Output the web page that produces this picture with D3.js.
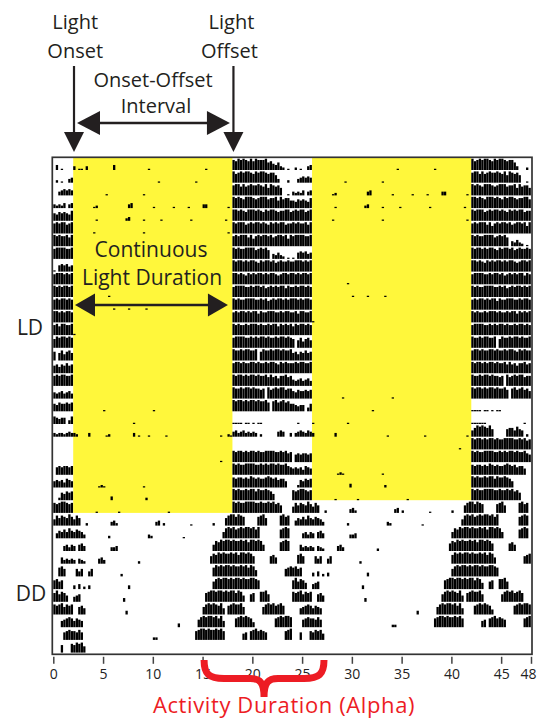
<!DOCTYPE html>
<html>
<head>
<meta charset="utf-8">
<script src="https://cdn.jsdelivr.net/npm/d3@7"></script>
<style>
  body { margin: 0; background: #fff; }
  svg { display: block; }
  text { font-family: "Open Sans", "Noto Sans", sans-serif; }
</style>
</head>
<body>
<svg id="chart" width="538" height="721"></svg>
<script>
// Double-plotted wheel-running actogram. Each row shows one day (0-24 h)
// followed by the next day (24-48 h). Values are activity counts per
// 15-minute bin on a 0-9 scale ('.' = no activity), written hour by hour.
const binHours = 0.25;
const lightOn = 2;     // lights on (h)
const lightOff = 18;   // lights off (h)
const ldDays = 28;     // days 0-27 under light/dark, then constant dark
const tickValues = [0, 5, 10, 15, 20, 25, 30, 35, 40, 45, 48];
const alphaRange = [15.15, 27.2];   // activity duration (alpha), h

const days = [
  ".4.1 .... 3.11 .3..|.... .... 4... ....|.... ..1. .... ....|.... .... .... .1..|.... .... 8798 9879|7988 8967 5463 2.1.",
  ".2.1 ..34 .... ....|.... .... .... ....|.... .... ..1. ....|.... .... .1.. ....|.... .... 9789 8998|7989 9878 863. ..2.",
  "..34 5454 .... ....|.... .1.. .... ....|.... 1... .... ....|.... .... .... ....|.... .... 8997 9789|8898 7969 8786 ..1.",
  "3232 4.34 .... ....|12.. .... .... ..34|.... .... 1... ....|1... ..1. .... 33..|.... ..1. 9898 7999|8789 9978 8969 7886",
  "6576 7658 .... ....|.1.. .... .... .23.|.... 1... ...1 ....|.... ...1 .... ....|.... .1.. 9989 8799|9898 7989 9878 8997",
  "8989 9789 .... ....|1... .... .... ....|.... 1... .... ....|.... .... .... ....|.... ..1. 9899 9789|8998 9879 8989 9788",
  "9898 8979 .... ....|.... .... .... ....|.... .... .... ....|.... .... .... ....|.... .... 8989 9979|6898 9989 7899 8969",
  "8999 9889 .... ....|.... .... .... ....|.... .... .... ....|.... .... .... ....|.... .... 9898 8999|9789 897. 4353 2.1.",
  "1.56 5645 .... ....|.... .... .... ....|.... .... .... ....|.... .... .... ....|.... .... 9899 8989|9879 8998 9789 8898",
  "8999 8989 .... ....|.... .... .... ....|.... .... .... ....|.... .... .... ....|.... .... 9989 8798|9899 8989 9878 9989",
  "9898 9989 .... ....|.... ..1. .... ....|.... .... .... ....|.... .... .... ....|.... .... 8999 9889|8998 9789 8989 9798",
  "8989 9898 .... ....|.... .... 1... ..1.|.... .1.. .... ....|.... .... .... ....|.... .... 9898 8999|9889 8978 9899 8989",
  "9989 8998 .... ....|.... .... .... ....|.... .... .... ....|.... .... .... ....|.... .... 8989 9898|9979 8899 9889 8998",
  "8979 9889 1... ....|.... .... .... ....|.... .... .... ....|.... .... .... ....|.... .... 9898 8989|9989 8898 9979 8989",
  "7989 9898 .... ....|.... .... .... ....|.... .... .... ....|.... .... .... ....|.... .... 8999 9889|8989 9898 8989 9898",
  "7.68 5786 .... ....|.... .... .... ....|.... .... .... ....|.... .... .... ....|.... .... 9889 8998|89.7 9889 8998 9889",
  "6757 6867 .... ....|.... .... .... ....|.... .... .... ....|.... .... .... ....|.... .... 8998 9889|9898 8989 9879 8988",
  "8989 9889 .... ....|.... .... .... ....|.... .... .... ....|.... .... .... ....|.... .... 9899 8989|9898 8979 7868 8978",
  "5456 4564 .... ....|.... .... .... ....|.... .... .... ....|.... .... .... ....|.... .... 9889 8998|9887 8.97 8989 9788",
  "6576 6767 .... ....|.... 1... .... ....|.... .... 1... ....|.... .... .... ....|.... .... 9899 8989|9898 897. 8978 9786",
  "6545 5.36 .... ....|.... .... .... ....|1... .... .... ....|.... .... .... ....|.... .... 1111 .11.|1.11 .... .... ....",
  "3233 2343 32.. ..3.|.... .12. .... ....|3.1. ..1. .... .1..|.... .... .... ....|...1 ..21 4534 5343|43.2 .... ..45 4..3",
  ".... .... .... ....|.... .... .... ....|.... .... .... ....|.... .... .... ....|.... .... .... ....|.... .... .... ....",
  ".... .... .... ....|.... .... .... ....|.... .... .... ....|.... .... .... ....|...1 .... 9899 8989|9898 8999 9889 8978",
  ".676 7767 .... ....|.... .... .... ....|.... .... .... ....|.... .... .... ....|.... .... 9898 8999|9889 8989 9898 8976",
  "5656 4765 .... ....|..12 1... .... ....|.... 1... .... ....|.... .... .... ....|.... .... 8788 7879|8787 7898 7867 75..",
  "..26 5767 .... ....|.... ...3 .... ....|.... .2.. .... ....|.... .... .... ....|.... .... 9898 8989|9798 8987 5... ....",
  "8789 9878 .... ....|.1.. .... ..1. ....|.... .... .... ..1.|.... .... .... ....|.... .... 9898 8999|9889 8898 9786 ....",
  "5868 7697 586. .2..|.... ...3 42.. ....|.... .... .34. 2...|.... ...1 .... ....|2... .689 9798 7...|..78 96.. ...8 978.",
  ".465 7586 5765 3...|.... ..2. .... ....|.... ..32 .... ....|.... 1... .... ....|.... 5898 9789 8998|979. .... ...7 898.",
  ".... 4535 4.56 4...|.... ...3 34.. ....|.... .... .... ....|.... .... .... ....|5879 8998 9889 8979|9898 5... ...7 898.",
  "...5 3434 3.43 2...|..45 3... .... ....|..2. .... .... ....|.... .... .... ...6|8798 9889 8979 9898|6... ...6 75.. ....",
  "..78 6... .646 ..46|.... .... ...2 ....|.... .... .... ....|.... .... .... ....|7989 8998 9889 8979|85.. .... .... .678",
  "7867 .... 3.4. 2.3.|.... .... .... ..3.|.... .... .... ....|.... .... .... ....|6898 9989 8998 9889|987. .... .... ....",
  "7968 75.. 456. ....|.... .... .... 3...|.... .... .... ....|.... .... .... .789|9899 8989 9798 5..6|7..8 896. .... ....",
  "8789 6878 ..67 5...|.... .... .... .3..|.... .... .... ....|.... .... .... 6898|9879 5.78 9889 6...|.... 6898 9789 7...",
  "...5 6787 5765 ....|.... .... .... ....|.... .... .... ....|..3. .... ..68 9899|8979 5... .789 8987|4... .... .789 8998",
  ".... 6787 7686 ....|.... .... .... ....|.... .... 22.. ....|.... .... .789 9898|8989 7... .... 56.7|8978 76.. .... .789",
  "...6 ...7 6878 5...|.... .... .... ....|.... .... .... ....|.... .... .... ....|.... .... .... ....|.... .... .... ....",
  ".... .... .... ....|.... .... .... ....|.... .... .... ....|.... .... .... ....|.... .... .... ....|.... .... .... ...."
];

// Second-half records that differ from the following day's first half.
const secondHalfOverrides = {
  20: "..1. .... 1... ....|.... ..1. .... ....|.... .... .... ....|.... .... .... ....|.... .... 1111 11..|.... .... .... .1..",
  21: ".345 4354 3... ....|.3.. .... .... ....|.... ..1. .... ....|.... .1.. .... ....|.... ..1. 5798 9879|6... ..67 7586 5.2."
};

const parseDay = s => s.replace(/[ |]/g, "").split("").map(c => (c === "." ? 0 : +c));
const dayCounts = days.map(parseDay);
const nRows = days.length - 1;

const rows = d3.range(nRows).map(k => ({
  row: k,
  first: dayCounts[k],
  second: secondHalfOverrides[k] !== undefined ? parseDay(secondHalfOverrides[k]) : dayCounts[k + 1]
}));

const svg = d3.select("#chart");
const ink = "#231f20";
const red = "#ed1c24";
const yellow = "#fff73b";

const x = d3.scaleLinear().domain([0, 48]).range([53.3, 531]);
const rowH = 12.7;
const y = d3.scaleLinear().domain([0, nRows]).range([157.3, 157.3 + nRows * rowH]);
const hgt = d3.scaleLinear().domain([0, 9]).range([0, 11.3]);

// Light phases: first half through the last LD day, second half one row less.
const lightBlocks = [
  { start: lightOn, end: lightOff, lastRow: ldDays },
  { start: 24 + lightOn, end: 24 + lightOff, lastRow: ldDays - 1 }
];
svg.append("g").selectAll("rect").data(lightBlocks).join("rect")
  .attr("x", d => x(d.start))
  .attr("width", d => x(d.end) - x(d.start))
  .attr("y", y(0))
  .attr("height", d => y(d.lastRow) - y(0))
  .attr("fill", yellow);

// Activity bars
const bw = x(binHours) - x(0);
const bars = [];
rows.forEach(r => {
  r.first.forEach((v, i) => { if (v) bars.push({ row: r.row, t: i * binHours, v }); });
  r.second.forEach((v, i) => { if (v) bars.push({ row: r.row, t: 24 + i * binHours, v }); });
});
svg.append("g").selectAll("rect").data(bars).join("rect")
  .attr("x", d => x(d.t))
  .attr("width", bw * 0.93)
  .attr("y", d => y(d.row + 1) - hgt(d.v))
  .attr("height", d => hgt(d.v))
  .attr("fill", "#000");

// Frame
svg.append("rect")
  .attr("x", x(0) - 1).attr("y", y(0))
  .attr("width", x(48) - x(0) + 2).attr("height", y(nRows) - y(0) + 1.7)
  .attr("fill", "none").attr("stroke", "#333").attr("stroke-width", 1.7);

// Hour axis
const axis = svg.append("g")
  .attr("transform", `translate(0,${y(nRows) + 4.2})`)
  .call(d3.axisBottom(x).tickValues(tickValues).tickSize(7).tickPadding(5).tickFormat(d3.format("d")));
axis.select(".domain").remove();
axis.selectAll(".tick line").attr("stroke", "#444").attr("stroke-width", 1.5);
axis.selectAll(".tick text")
  .attr("fill", "#222")
  .attr("dx", d => (d === 48 ? -3 : 0))
  .style("font-family", "'Open Sans', sans-serif")
  .style("font-size", "14px");

// Phase labels
svg.append("text").attr("x", 30).attr("y", 335).attr("text-anchor", "middle")
  .attr("fill", ink).style("font-size", "21px").text("LD");
svg.append("text").attr("x", 31).attr("y", 601).attr("text-anchor", "middle")
  .attr("fill", ink).style("font-size", "21px").text("DD");

// Annotations
const ann = svg.append("g").attr("fill", ink).style("font-size", "20px").attr("text-anchor", "middle");
ann.append("text").attr("x", x(lightOn) + 2).attr("y", 29).text("Light");
ann.append("text").attr("x", x(lightOn) + 2).attr("y", 58).text("Onset");
ann.append("text").attr("x", x(lightOff) - 1).attr("y", 29).text("Light");
ann.append("text").attr("x", x(lightOff) - 3).attr("y", 58).text("Offset");
ann.append("text").attr("x", 153).attr("y", 87).text("Onset-Offset");
ann.append("text").attr("x", 156).attr("y", 113).text("Interval");
ann.append("text").attr("x", 151).attr("y", 257).style("font-size", "21px").text("Continuous");
ann.append("text").attr("x", 152).attr("y", 285).style("font-size", "21px").text("Light Duration");

const arrows = svg.append("g");
function head(tipX, tipY, dx, dy, len, half) {
  // dx, dy: unit direction the head points to
  const bx = tipX - dx * len, by = tipY - dy * len;
  const px = -dy * half, py = dx * half;
  return `M${tipX},${tipY}L${bx + px},${by + py}L${bx - px},${by - py}Z`;
}
function vArrow(ax, y0, tipY) {
  arrows.append("line").attr("x1", ax).attr("x2", ax).attr("y1", y0).attr("y2", tipY - 18)
    .attr("stroke", ink).attr("stroke-width", 2.2);
  arrows.append("path").attr("d", head(ax, tipY, 0, 1, 20, 10)).attr("fill", ink);
}
function hArrow(xl, xr, ay, len, half) {
  arrows.append("line").attr("x1", xl + len - 2).attr("x2", xr - len + 2).attr("y1", ay).attr("y2", ay)
    .attr("stroke", ink).attr("stroke-width", 2.4);
  arrows.append("path").attr("d", head(xl, ay, -1, 0, len, half)).attr("fill", ink);
  arrows.append("path").attr("d", head(xr, ay, 1, 0, len, half)).attr("fill", ink);
}
vArrow(x(lightOn) + 0.8, 66, 152);
vArrow(x(lightOff) + 1, 66, 152);
hArrow(x(lightOn) + 3.8, x(lightOff) - 2.5, 123, 23, 12);
hArrow(x(lightOn) + 1.8, x(lightOff) - 4.5, 305, 20, 11.5);

// Activity duration brace
const bx0 = x(alphaRange[0]), bx1 = x(alphaRange[1]), bxc = (bx0 + bx1) / 2;
const yTop = 660, yMid = 678.5, yTip = 697;
svg.append("path")
  .attr("d",
    `M${bx0},${yTop} C${bx0},${yMid - 4} ${bx0 + 5},${yMid} ${bx0 + 20},${yMid} ` +
    `L${bxc - 14},${yMid} C${bxc - 4},${yMid} ${bxc},${yMid + 4} ${bxc},${yTip} ` +
    `M${bxc},${yTip} C${bxc},${yMid + 4} ${bxc + 4},${yMid} ${bxc + 14},${yMid} ` +
    `L${bx1 - 20},${yMid} C${bx1 - 5},${yMid} ${bx1},${yMid - 4} ${bx1},${yTop}`)
  .attr("fill", "none").attr("stroke", red).attr("stroke-width", 7);
svg.append("text").attr("x", 284).attr("y", 713).attr("text-anchor", "middle")
  .attr("fill", red).style("font-size", "22px").style("letter-spacing", "0.6px")
  .text("Activity Duration (Alpha)");
</script>
</body>
</html>
